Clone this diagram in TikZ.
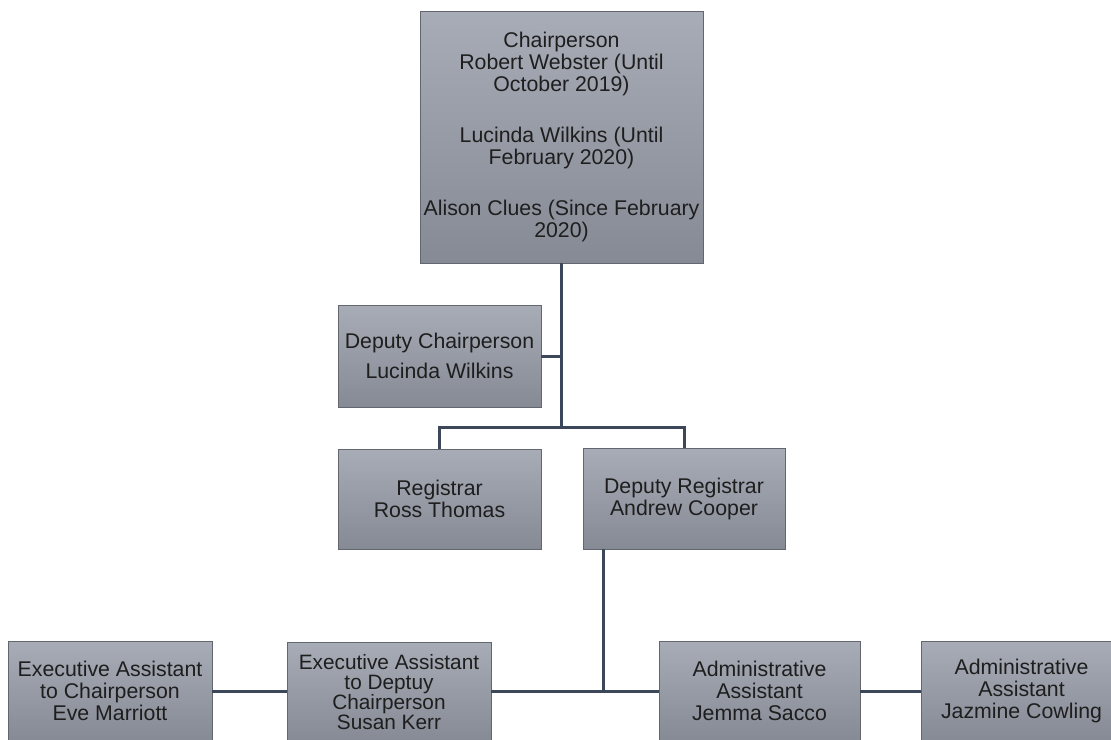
\documentclass[tikz,border=0pt]{standalone}
\usepackage{fontspec}
\setmainfont{Liberation Sans}
\definecolor{boxtop}{RGB}{168,172,182}
\definecolor{boxbot}{RGB}{134,138,149}
\definecolor{boxline}{RGB}{98,102,110}
\definecolor{connc}{RGB}{60,72,90}
\definecolor{txt}{RGB}{30,30,30}
\begin{document}
\begin{tikzpicture}[x=1pt,y=-1pt,
  box/.style={draw=boxline, line width=0.9pt, top color=boxtop, bottom color=boxbot,
    inner sep=0pt, align=center, text=txt, font=\fontsize{21.3}{22}\selectfont},
  link/.style={draw=connc, line width=3pt}]
\useasboundingbox (0,0) rectangle (1111,739);
\clip (0,0) rectangle (1111,739);
\fill[white] (0,0) rectangle (1111,739);

\node[box, minimum width=283pt, minimum height=252pt] (chair) at (561.5,137)
  {Chairperson\\Robert Webster (Until\\October 2019)\\[29pt]Lucinda Wilkins (Until\\February 2020)\\[29pt]Alison Clues (Since February\\2020)};
\node[box, minimum width=203pt, minimum height=102pt] (depchair) at (439.5,356)
  {Deputy Chairperson\\[8pt]Lucinda Wilkins};
\node[box, minimum width=203pt, minimum height=100pt] (reg) at (439.5,499)
  {Registrar\\Ross Thomas};
\node[box, minimum width=202pt, minimum height=101pt] (depreg) at (684,498.5)
  {Deputy Registrar\\Andrew Cooper};
\node[box, minimum width=204pt, minimum height=100pt] (ea1) at (110,691)
  {Executive Assistant\\to Chairperson\\Eve Marriott};
\node[box, minimum width=204pt, minimum height=100pt, font=\fontsize{20.8}{19.8}\selectfont] (ea2) at (389,692)
  {Executive Assistant\\to Deptuy\\Chairperson\\Susan Kerr};
\node[box, minimum width=201pt, minimum height=100pt] (aa1) at (759.5,691)
  {Administrative\\Assistant\\Jemma Sacco};
\node[box, minimum width=201pt, minimum height=100pt] (aa2) at (1021.5,691)
  {Administrative\\Assistant\\Jazmine Cowling};

\coordinate (bar) at (561.5,427);
\coordinate (junc) at (603,691);

\draw[link] (chair.south) -- (bar);
\draw[link] (depchair.east) -- (depchair.east -| bar);
\draw[link] (reg.north) |- (bar) -| (depreg.north);
\draw[link] (depreg.south -| junc) -- (junc);
\draw[link] (ea1.east) -- (ea2.west |- ea1.east);
\draw[link] (ea2.east |- junc) -- (aa1.west |- junc);
\draw[link] (aa1.east) -- (aa2.west);
\end{tikzpicture}
\end{document}
